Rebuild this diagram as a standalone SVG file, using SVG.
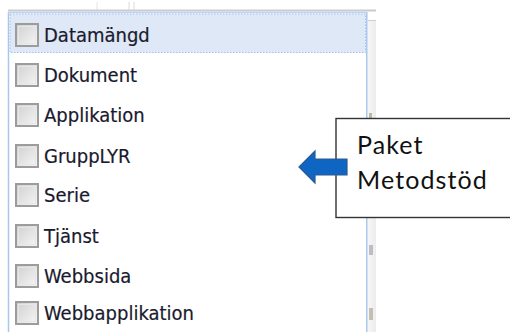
<svg xmlns="http://www.w3.org/2000/svg" width="510" height="332" viewBox="0 0 510 332">
  <defs>
    <linearGradient id="boxFill" x1="0" y1="0" x2="1" y2="1">
      <stop offset="0" stop-color="#cfcfcf"/>
      <stop offset="1" stop-color="#f7f7f7"/>
    </linearGradient>
    <linearGradient id="sideFill" x1="0" y1="0" x2="1" y2="0">
      <stop offset="0" stop-color="#f6f6f6"/>
      <stop offset="1" stop-color="#ececec"/>
    </linearGradient>
  </defs>
  <style>
    .item { font-family: "DejaVu Sans Condensed", "DejaVu Sans", sans-serif; font-stretch: condensed; font-size: 20px; fill: #1a1a2e; stroke: #1a1a2e; stroke-width: 0.2; }
    .chk { fill: url(#boxFill); stroke: #9c9c9c; stroke-width: 2; }
    .chk-in { fill: none; stroke: #e6e6e6; stroke-width: 1; }
    .note { font-family: Lato, "Open Sans", sans-serif; font-weight: 400; font-size: 25px; letter-spacing: 1.1px; fill: #111111; }
  </style>

  <rect width="510" height="332" fill="#ffffff"/>

  <!-- window chrome above and beside the list -->
  <g id="chrome">
    <line x1="97" y1="2" x2="97" y2="10" stroke="#e4e4e4" stroke-width="1"/>
    <line x1="129" y1="2" x2="129" y2="10" stroke="#dadada" stroke-width="1"/>
    <line x1="134" y1="2" x2="134" y2="10" stroke="#dadada" stroke-width="1"/>
    <line x1="8" y1="10.5" x2="376" y2="10.5" stroke="#cbcbcb" stroke-width="2"/>
    <rect x="368" y="20" width="8" height="312" fill="url(#sideFill)"/>
    <line x1="368" y1="20.5" x2="376" y2="20.5" stroke="#cfcfcf" stroke-width="1"/>
    <rect x="369" y="113" width="3" height="5" fill="#b0a89c" opacity="0.8"/>
    <rect x="369" y="245" width="4" height="10" fill="#9a9aa8" opacity="0.6"/>
    <rect x="369" y="308" width="4" height="12" fill="#a89a8a" opacity="0.6"/>
  </g>

  <!-- list frame -->
  <g id="list">
    <line x1="8.5" y1="12" x2="8.5" y2="332" stroke="#a9c6ec" stroke-width="1.5"/>
    <line x1="366.8" y1="12" x2="366.8" y2="332" stroke="#a9c6ec" stroke-width="1.5"/>
    <line x1="8" y1="12.5" x2="367" y2="12.5" stroke="#bcd3f0" stroke-width="1.5"/>
    <!-- selected row -->
    <rect x="10" y="14" width="355.5" height="38.5" fill="#dee8f6" stroke="#a3c0ea" stroke-width="1" stroke-dasharray="1.5 1.5"/>
  </g>

  <g id="row-datamangd">
    <rect class="chk" x="16" y="24" width="22" height="22"/>
    <rect class="chk-in" x="18.5" y="26.5" width="17" height="17"/>
    <text class="item" x="44" y="42">Datamängd</text>
  </g>
  <g id="row-dokument">
    <rect class="chk" x="16" y="64" width="22" height="22"/>
    <rect class="chk-in" x="18.5" y="66.5" width="17" height="17"/>
    <text class="item" x="44" y="82">Dokument</text>
  </g>
  <g id="row-applikation">
    <rect class="chk" x="16" y="104" width="22" height="22"/>
    <rect class="chk-in" x="18.5" y="106.5" width="17" height="17"/>
    <text class="item" x="44" y="122">Applikation</text>
  </g>
  <g id="row-gruppl">
    <rect class="chk" x="16" y="145" width="22" height="22"/>
    <rect class="chk-in" x="18.5" y="147.5" width="17" height="17"/>
    <text class="item" x="44" y="163">GruppLYR</text>
  </g>
  <g id="row-serie">
    <rect class="chk" x="16" y="184" width="22" height="22"/>
    <rect class="chk-in" x="18.5" y="186.5" width="17" height="17"/>
    <text class="item" x="44" y="202">Serie</text>
  </g>
  <g id="row-tjanst">
    <rect class="chk" x="16" y="225" width="22" height="22"/>
    <rect class="chk-in" x="18.5" y="227.5" width="17" height="17"/>
    <text class="item" x="44" y="243">Tjänst</text>
  </g>
  <g id="row-webbsida">
    <rect class="chk" x="16" y="265" width="22" height="22"/>
    <rect class="chk-in" x="18.5" y="267.5" width="17" height="17"/>
    <text class="item" x="44" y="283">Webbsida</text>
  </g>
  <g id="row-webbapplikation">
    <rect class="chk" x="16" y="302" width="22" height="22"/>
    <rect class="chk-in" x="18.5" y="304.5" width="17" height="17"/>
    <text class="item" x="44" y="320">Webbapplikation</text>
  </g>

  <!-- callout box -->
  <g id="callout">
    <rect x="336" y="118.5" width="180" height="99" fill="#ffffff" stroke="#333333" stroke-width="1.4"/>
    <text class="note" x="357" y="154">Paket</text>
    <text class="note" x="357" y="189">Metodstöd</text>
  </g>

  <!-- block arrow from the callout to the list -->
  <g id="connectors">
    <path d="M299 167 L315 151 L315 159 L347 159 L347 175 L315 175 L315 183 Z" fill="#0f66c2" stroke="#2a5a92" stroke-width="1.2" stroke-linejoin="miter"/>
  </g>
</svg>
